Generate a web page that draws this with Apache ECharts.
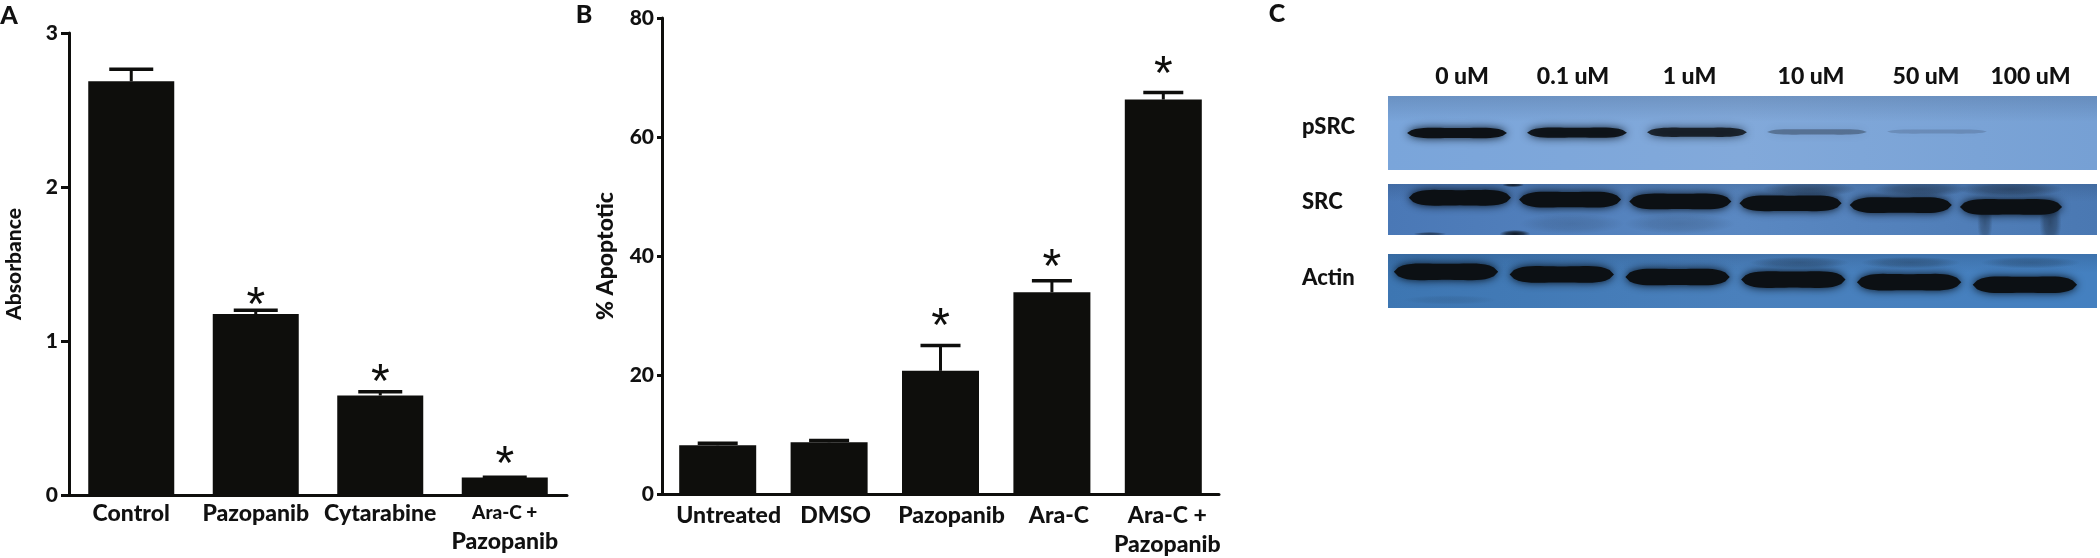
<!DOCTYPE html>
<html><head><meta charset="utf-8">
<style>html,body{margin:0;padding:0;background:#fff}#c{width:2100px;height:558px}</style>
<script src="https://cdn.jsdelivr.net/npm/echarts@6/dist/echarts.min.js"></script>
</head><body><div id="c"></div>
<script>
// Panel A
const catsA = ['Control', 'Pazopanib', 'Cytarabine', 'Ara-C +\nPazopanib'];
const valsA = [2.686, 1.175, 0.646, 0.113];
const errA  = [2.765, 1.2, 0.67, 0.116];
const starsA = [null, 1.28, 0.78, 0.247];
// Panel B
const catsB = ['Untreated', 'DMSO', 'Pazopanib', 'Ara-C', 'Ara-C +\nPazopanib'];
const valsB = [8.2, 8.7, 20.7, 33.9, 66.3];
const errB  = [8.55, 9.0, 24.95, 35.85, 67.5];
const starsB = [null, null, 29.4, 39.3, 71.8];
// Panel C: relative band density per lane
const lanes = ['0 uM', '0.1 uM', '1 uM', '10 uM', '50 uM', '100 uM'];
const pSRC  = [0.95, 0.92, 0.8, 0.3, 0.13, 0];
const SRC   = [1, 1, 1, 1, 1, 1];
const Actin = [1, 1, 1, 1, 1, 1];
// Faint blot smudges: lane, height fraction, lane width, height span, density
const smudgesSRC = [[0.486,0.98,0.28,0.16,0.95],[-0.28,0.98,0.3,0.08,0.6],[0.47,0.02,0.2,0.08,0.9],[4.72,0.75,0.14,0.9,0.35],[5.31,0.75,0.2,1,0.45],[3.14,0.1,0.85,0.3,0.4],[4.14,0.1,0.85,0.3,0.4],[4.95,0.1,0.95,0.3,0.45],[1,0.78,0.95,0.4,0.14],[1.97,0.78,1,0.4,0.16]];
const smudgesActin = [[3.05,0.16,0.9,0.22,0.3],[4.05,0.16,0.9,0.22,0.3],[5.13,0.16,0.9,0.22,0.25],[-0.1,0.85,0.85,0.18,0.1]];

const F = 'Lato,"Liberation Sans",sans-serif';
const W = 900;
const INK = '#0e0e0c';
const nudgeB = [11, 6.5, 11, 7, 4];

function errItem(cap){
  return function(p, api){
    const x = api.value(0), top = api.value(1), base = api.value(2);
    const a = api.coord([x, top]), b = api.coord([x, base]);
    const st = {stroke: INK, lineWidth: 3, fill: null};
    return {type:'group', children:[
      {type:'line', shape:{x1:a[0],y1:a[1],x2:b[0],y2:b[1]}, style:st},
      {type:'line', shape:{x1:a[0]-cap,y1:a[1],x2:a[0]+cap,y2:a[1]}, style:{...st, lineWidth:3.5}}
    ]};
  };
}
function starItem(p, api){
  if (api.value(1) == null || isNaN(api.value(1))) return null;
  const a = api.coord([api.value(0), api.value(1)]);
  return {type:'text', x:a[0], y:a[1]+9, style:{text:'*', font:'400 48px "Liberation Sans"', fill:INK, textAlign:'center', textVerticalAlign:'middle'}};
}
function chartSeries(gi, vals, errs, stars, barW, cap){
  return [
    {type:'bar', xAxisIndex:gi, yAxisIndex:gi, data:vals, barWidth:barW, itemStyle:{color:INK}, silent:true},
    {type:'custom', xAxisIndex:gi, yAxisIndex:gi, renderItem:errItem(cap), data:errs.map((e,i)=>[i,e,vals[i]]), silent:true, z:1},
    {type:'custom', xAxisIndex:gi, yAxisIndex:gi, renderItem:starItem, data:stars.map((s,i)=>[i,s]), silent:true, z:3}
  ];
}
function catAxis(gi, cats, formatter, rich, margin){
  return {type:'category', gridIndex:gi, data:cats, boundaryGap:true,
    axisLine:{lineStyle:{color:INK,width:3}}, axisTick:{alignWithLabel:true,length:7,lineStyle:{color:INK,width:3}},
    axisLabel:{interval:0, margin, color:'#111', fontFamily:F, fontWeight:W, fontSize:23, lineHeight:30, formatter, rich}};
}
function valAxis(gi, max, step, tick, name, nameGap, margin, nameSize){
  return {type:'value', gridIndex:gi, min:0, max, interval:step, splitLine:{show:false},
    axisLine:{show:true,onZero:false,lineStyle:{color:INK,width:3}}, axisTick:{show:true,length:tick,lineStyle:{color:INK,width:3}},
    axisLabel:{margin, color:'#111', fontFamily:F, fontWeight:W, fontSize:21},
    name, nameLocation:'middle', nameGap, nameRotate:90,
    nameTextStyle:{color:'#111', fontFamily:F, fontWeight:W, fontSize:nameSize}};
}

const blotRows = [
  {name:'pSRC', vals:pSRC, smudges:[], top:96, h:74, bg:['#7aa5da','#82a9da','#76a0d4'], start:-0.036, step:1.081, w:0.9, y0:0.5, dy:-0.005, t:13, labelY:127},
  {name:'SRC', vals:SRC, smudges:smudgesSRC, top:184, h:51, bg:['#4a78b6','#5a88c2','#4a78b2'], start:-0.01, step:0.993, w:0.92, y0:0.27, dy:0.036, t:19, labelY:202},
  {name:'Actin', vals:Actin, smudges:smudgesActin, top:254, h:54, bg:['#3d76b2','#4a80bc','#4480c0'], start:-0.135, step:1.043, w:0.94, y0:0.33, dy:0.048, t:20, labelY:278}
];
const bx0 = 1388, bx1 = 2097, laneC0 = 1461, lanePx = 111;
const xMin = (bx0-laneC0)/lanePx, xMax = (bx1-laneC0)/lanePx;

function bgItem(row){
  return function(p){
    const cs = p.coordSys;
    return {type:'group', children:[
      {type:'rect', shape:{x:cs.x,y:cs.y,width:cs.width,height:cs.height},
        style:{fill:new echarts.graphic.LinearGradient(0,0,1,0,[{offset:0,color:row.bg[0]},{offset:.5,color:row.bg[1]},{offset:1,color:row.bg[2]}])}},
      {type:'rect', shape:{x:cs.x,y:cs.y,width:cs.width,height:cs.height},
        style:{fill:new echarts.graphic.LinearGradient(0,0,0,1,[{offset:0,color:'rgba(20,40,70,0.16)'},{offset:.35,color:'rgba(20,40,70,0)'},{offset:1,color:'rgba(20,40,70,0)'}])}}
    ]};
  };
}
function smudgeItem(p, api){
  const c = api.coord([api.value(0), api.value(1)]);
  const size = api.size([api.value(2), api.value(3)]);
  const a = api.value(4);
  return {type:'circle', shape:{cx:0,cy:0,r:1}, x:c[0], y:c[1], scaleX:size[0]/2, scaleY:size[1]/2,
    style:{fill:new echarts.graphic.RadialGradient(0.5,0.5,0.5,[{offset:0,color:`rgba(12,20,30,${a})`},{offset:.55,color:`rgba(12,20,30,${a*0.7})`},{offset:1,color:'rgba(12,20,30,0)'}])}};
}
function blotItem(row){
  return function(p, api){
    const i = api.value(0), d = api.value(1);
    if (!(d > 0)) return null;
    const c = row.start + i*row.step, yv = row.y0 + row.dy*i;
    const mid = api.coord([c, yv]), halfW = api.size([row.w, 0])[0]/2;
    const H = row.t * (0.3+0.7*d);
    const pts = [], N = 24;
    const prof = t => Math.pow(1-Math.pow(Math.abs(t),4),0.7)*(0.8+0.28*t*t);
    for (let k=0;k<=N;k++){ const t=-1+2*k/N; pts.push([mid[0]+t*halfW, mid[1]-H/2*prof(t)]); }
    for (let k=N;k>=0;k--){ const t=-1+2*k/N; pts.push([mid[0]+t*halfW, mid[1]+H/2*prof(t)]); }
    const a = Math.min(1, d+0.02);
    return {type:'polygon', shape:{points:pts},
      style:{fill:`rgba(12,16,20,${a})`, shadowBlur:8, shadowColor:`rgba(8,18,30,${a})`}};
  };
}

const grids = [
  {left:69, top:33, width:498, height:462, outerBoundsMode:'none'},
  {left:662, top:18, width:557, height:476, outerBoundsMode:'none'}
];
const xAxes = [
  catAxis(0, catsA, v => v.includes('\n') ? `{s|Ara-C +}\n{b|Pazopanib}` : v, {s:{fontSize:19,fontWeight:W,fontFamily:F,color:'#111',lineHeight:27},b:{fontSize:23,fontWeight:W,fontFamily:F,color:'#111',lineHeight:31}}, 4),
  catAxis(1, catsB, (v,i)=> v.split('\n').map(t=>`{n${i}|${t}}`).join('\n'),
    Object.fromEntries(nudgeB.map((n,i)=>['n'+i,{padding:[0,0,0,2*n],fontSize:23,fontWeight:W,fontFamily:F,color:'#111',lineHeight:29}])), 7)
];
const yAxes = [valAxis(0,3,1,8,'Absorbance',44,11,21), valAxis(1,80,20,5,'% Apoptotic',45,8,23)];
let series = [
  ...chartSeries(0,valsA,errA,starsA,86,22),
  ...chartSeries(1,valsB,errB,starsB,77,20)
];
blotRows.forEach((r,k)=>{
  const gi = 2+k;
  grids.push({left:bx0, top:r.top, width:bx1-bx0, height:r.h, outerBoundsMode:'none'});
  xAxes.push({type:'value', gridIndex:gi, min:xMin, max:xMax, show:false});
  yAxes.push({type:'value', gridIndex:gi, min:0, max:1, inverse:true, show:false});
  const common = {type:'custom', xAxisIndex:gi, yAxisIndex:gi, clip:true, silent:true};
  series.push({...common, renderItem:bgItem(r), data:[[0,0]], z:1});
  series.push({...common, renderItem:smudgeItem, data:r.smudges, z:2});
  series.push({...common, renderItem:blotItem(r), data:r.vals.map((v,i)=>[i,v]), z:3});
});

const tf = (size)=>`${W} ${size}px ${F}`;
const txt = (t,x,y,size,align)=>({type:'text', x, y, style:{text:t, font:tf(size), fill:'#111', textAlign:align||'center', textVerticalAlign:'middle'}});
const laneX = [1462, 1573, 1689.5, 1811, 1926, 2030.5];
const graphic = [
  txt('A',9,16,25), txt('B',584,15,25), txt('C',1277,14,25),
  ...lanes.map((l,i)=>txt(l,laneX[i],77,23)),
  ...blotRows.map(r=>txt(r.name,1302,r.labelY,22,'left'))
];

const chart = echarts.init(document.getElementById('c'), null, {renderer:'canvas'});
chart.setOption({animation:false, backgroundColor:'#fff', grid:grids, xAxis:xAxes, yAxis:yAxes, series, graphic:{elements:graphic}, tooltip:{show:false}});
</script></body></html>
